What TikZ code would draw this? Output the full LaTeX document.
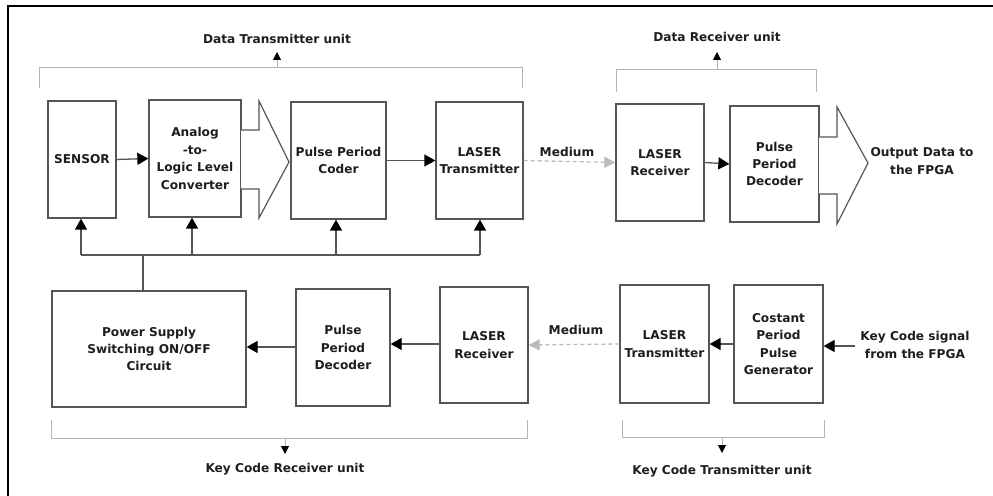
\documentclass[tikz,border=0pt]{standalone}
\usepackage{fontspec}
\setmainfont{DejaVu Sans}
\usetikzlibrary{arrows.meta}
\definecolor{boxgray}{HTML}{555555}
\definecolor{brgray}{HTML}{B4B4B4}
\definecolor{medgray}{HTML}{BBBBBB}
\definecolor{txt}{HTML}{1E1E1E}
\tikzset{
  blk/.style={draw=boxgray, line width=1.3bp, minimum width=#1, inner sep=0pt, align=center,
     font=\bfseries\fontsize{12.2}{17.5}\selectfont, text=txt},
  lbl/.style={align=center, font=\bfseries\fontsize{12.2}{17.5}\selectfont, text=txt, inner sep=0pt},
  conn/.style={draw=boxgray, line width=1.3bp, -{Triangle[length=11bp,width=12bp,color=black]}},
  wire/.style={draw=boxgray, line width=1.3bp},
  medium/.style={draw=medgray, line width=1.3bp, dash pattern=on 4bp off 3bp, -{Triangle[length=11bp,width=11bp,color=medgray]}},
  brk/.style={draw=brgray, line width=1bp},
  brkarr/.style={draw=brgray, line width=1bp, -{Triangle[length=8bp,width=8bp,color=black]}},
  hollow/.style={draw=boxgray, line width=1.2bp, fill=white},
}
\begin{document}
\begin{tikzpicture}[x=1bp,y=-1bp]
\useasboundingbox (0,0) rectangle (993,496);
\fill[white] (0,0) rectangle (993,496);
% frame
\draw[black, line width=2bp] (993,6) -- (8,6) -- (8,496);

% top row
\node[blk=68bp, minimum height=117bp] (sensor) at (82,159.5) {SENSOR};
\node[blk=92bp, minimum height=117bp] (adc) at (195,158.5) {Analog\\-to-\\Logic Level\\Converter};
\node[blk=95bp, minimum height=117bp] (coder) at (338.5,160.5) {Pulse Period\\Coder};
\node[blk=87bp, minimum height=117bp] (ltx) at (479.5,160.5) {LASER\\Transmitter};
\node[blk=88bp, minimum height=117bp] (lrx) at (660,162.5) {LASER\\Receiver};
\node[blk=89bp, minimum height=116bp] (dec) at (774.5,164) {Pulse\\Period\\Decoder};

% hollow arrows
\draw[hollow] (241,130) -- (259,130) -- (259,101) -- (289,162) -- (259,218) -- (259,189) -- (241,189);
\draw[hollow] (819,137) -- (837,137) -- (837,107) -- (868,163) -- (837,224) -- (837,194) -- (819,194);
\node[lbl] (outtxt) at (922,161) {Output Data to\\the FPGA};

% top arrows
\draw[conn] (sensor.east) -- (adc.west);
\draw[conn] (coder.east) -- (ltx.west);
\draw[medium] (ltx.east) -- (lrx.west);
\node[lbl] (med1) at (567,152) {Medium};
\draw[conn] (lrx.east) -- (dec.west);

% bottom row
\node[blk=194bp, minimum height=116bp] (psu) at (149,349) {Power Supply\\Switching ON/OFF\\Circuit};
\node[blk=94bp, minimum height=117bp] (dec2) at (343,347.5) {Pulse\\Period\\Decoder};
\node[blk=88bp, minimum height=116bp] (lrx2) at (484,345) {LASER\\Receiver};
\node[blk=89bp, minimum height=118bp] (ltx2) at (664.5,344) {LASER\\Transmitter};
\node[blk=89bp, minimum height=118bp] (gen) at (778.5,344) {Costant\\Period\\Pulse\\Generator};
\node[lbl] (keytxt) at (915,345) {Key Code signal\\from the FPGA};
\coordinate (keyin) at (855,346);

\draw[conn] (keyin) -- (gen.east |- keyin);
\draw[conn] (gen.west) -- (ltx2.east);
\draw[medium] (ltx2.west) -- (lrx2.east);
\node[lbl] (med2) at (576,330) {Medium};
\draw[conn] (lrx2.west |- 0,344) -- (dec2.east |- 0,344);
\draw[conn] (dec2.west |- 0,347) -- (psu.east |- 0,347);

% power bus
\coordinate (bl) at (81,255);
\coordinate (br) at (480,255);
\draw[wire] (bl) -- (br);
\draw[wire] (psu.north -| 143,0) -- (143,255);
\draw[conn] (bl) -- (sensor.south -| bl);
\draw[conn] (192,255) -- (adc.south -| 192,0);
\draw[conn] (336,255) -- (coder.south -| 336,0);
\draw[conn] (br) -- (ltx.south -| br);

% brackets
\draw[brk] (39,88) -- (39,68) -- (522,68) -- (522,88);
\draw[brkarr] (277,68) -- (277,52);
\node[lbl] (dtu) at (277,39) {Data Transmitter unit};

\draw[brk] (616,92) -- (616,70) -- (816,70) -- (816,92);
\draw[brkarr] (717,70) -- (717,52);
\node[lbl] (dru) at (717,37) {Data Receiver unit};

\draw[brk] (51,420) -- (51,438) -- (527,438) -- (527,420);
\draw[brkarr] (285,438) -- (285,454);
\node[lbl] (kcr) at (285,469) {Key Code Receiver unit};

\draw[brk] (622,420) -- (622,437) -- (824,437) -- (824,420);
\draw[brkarr] (722,437) -- (722,453);
\node[lbl] (kct) at (722,471) {Key Code Transmitter unit};
\end{tikzpicture}
\end{document}
